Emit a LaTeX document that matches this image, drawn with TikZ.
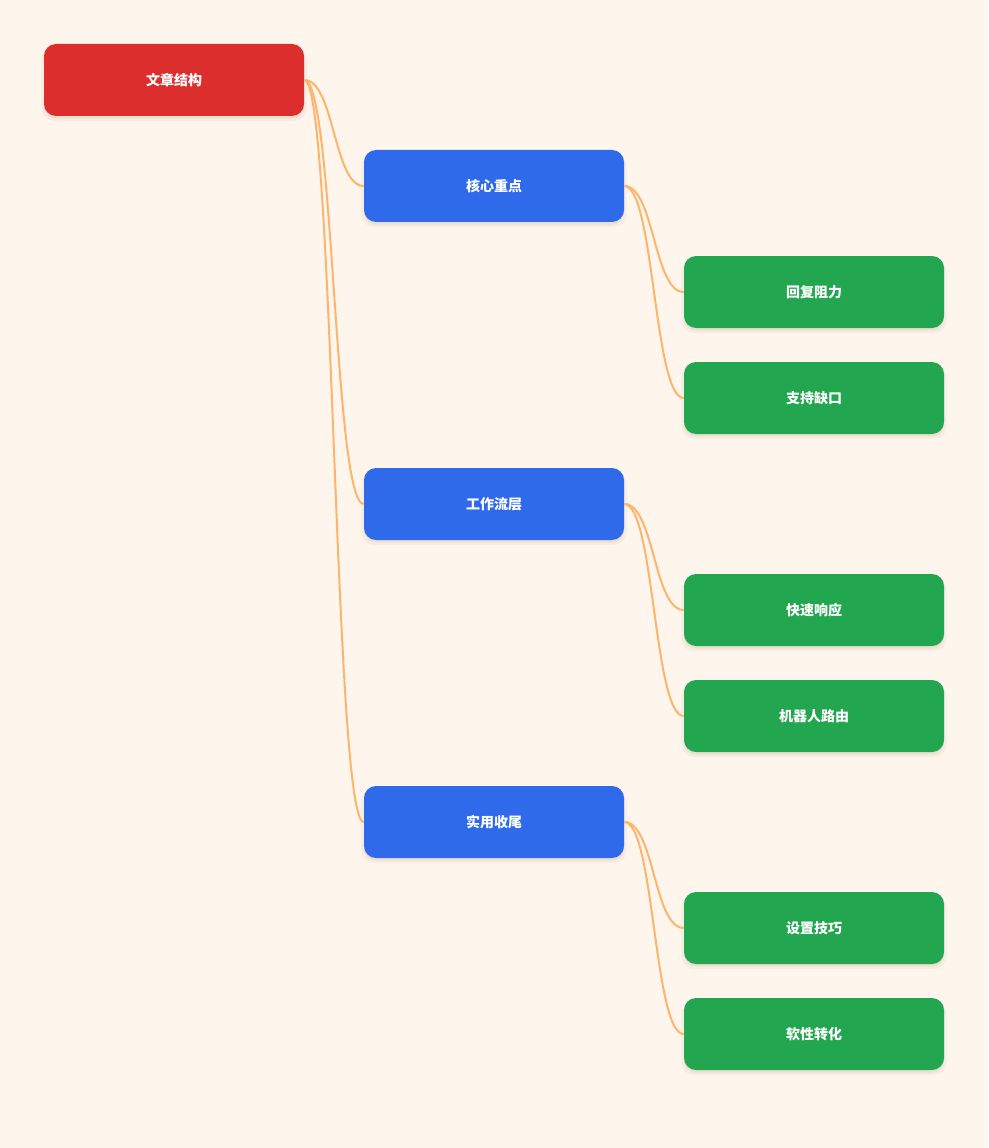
\documentclass[tikz,border=0pt]{standalone}
\usepackage{fontspec}
\setmainfont{Noto Sans CJK SC}
\usepackage{tikz}
\usetikzlibrary{positioning,shadows}
\definecolor{paper}{HTML}{FEF5EC}
\definecolor{rootred}{HTML}{DC2E2D}
\definecolor{midblue}{HTML}{2F6AEA}
\definecolor{leafgreen}{HTML}{22A64F}
\definecolor{linkorange}{HTML}{FDB56D}
\definecolor{shade}{HTML}{B08A60}
\tikzset{box/.style={rectangle,rounded corners=9pt,minimum width=195pt,minimum height=54pt,
        text=white,font=\bfseries\fontsize{10.5pt}{12pt}\selectfont,
        general shadow={shadow xshift=0pt,shadow yshift=-3pt,shadow scale=1.02,
                        fill=shade,opacity=0.08},
        general shadow={shadow xshift=0pt,shadow yshift=-2pt,
                        fill=shade,opacity=0.12}},
    rootbox/.style={box,fill=rootred},
    midbox/.style={box,fill=midblue},
    leafbox/.style={box,fill=leafgreen},
    link/.style={draw=linkorange,line width=1.5pt}}

\begin{document}
\begin{tikzpicture}[x=0.75pt,y=-0.75pt]

\fill [paper] (0,0) rectangle (988,1148);
\useasboundingbox (0,0) rectangle (988,1148);

\node (root) [rootbox] at (174,80) {文章结构};

\node (b1) [midbox] at (494,186) {核心重点};
\node (b2) [midbox] at (494,504) {工作流层};
\node (b3) [midbox] at (494,822) {实用收尾};

\node (g11) [leafbox] at (814,292) {回复阻力};
\node (g12) [leafbox] at (814,398) {支持缺口};
\node (g21) [leafbox] at (814,610) {快速响应};
\node (g22) [leafbox] at (814,716) {机器人路由};
\node (g31) [leafbox] at (814,928) {设置技巧};
\node (g32) [leafbox] at (814,1034) {软性转化};

\foreach \kid in {b1,b2,b3}
    \draw [link] (root.east) .. controls +(30,0) and +(-30,0) .. (\kid.west);
\foreach \grp in {1,2,3}
    \foreach \kid in {1,2}
        \draw [link] (b\grp.east) .. controls +(30,0) and +(-30,0) .. (g\grp\kid.west);

\end{tikzpicture}
\end{document}
